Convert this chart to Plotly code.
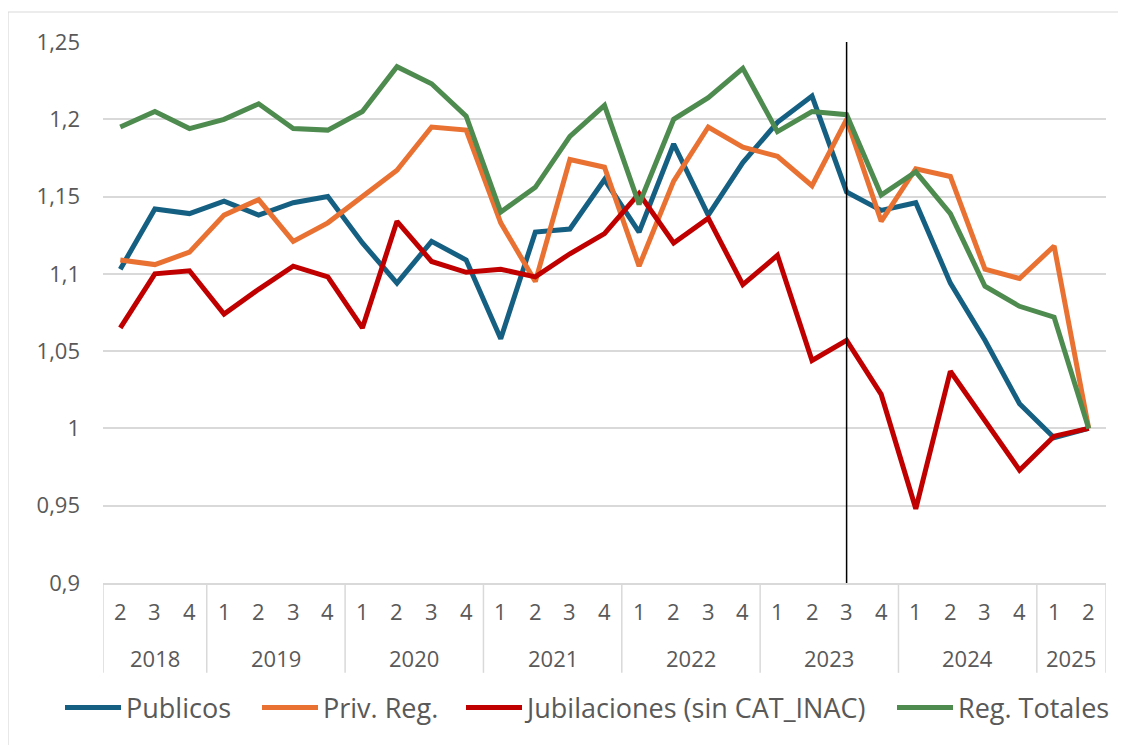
import plotly.graph_objects as go

years = ["2018", "2019", "2020", "2021", "2022", "2023", "2024", "2025"]
quarters_per_year = [[2, 3, 4], [1, 2, 3, 4], [1, 2, 3, 4], [1, 2, 3, 4],
                     [1, 2, 3, 4], [1, 2, 3, 4], [1, 2, 3, 4], [1, 2]]

publicos = [1.103, 1.142, 1.139, 1.147, 1.138, 1.146, 1.150,
            1.120, 1.094, 1.121, 1.109,
            1.058, 1.127, 1.129, 1.161,
            1.127, 1.184, 1.138, 1.172,
            1.198, 1.215, 1.153, 1.141,
            1.146, 1.094, 1.057, 1.016,
            0.994, 1.000]
priv_reg = [1.109, 1.106, 1.114, 1.138, 1.148, 1.121, 1.133,
            1.150, 1.167, 1.195, 1.193,
            1.133, 1.095, 1.174, 1.169,
            1.105, 1.160, 1.195, 1.182,
            1.176, 1.157, 1.200, 1.134,
            1.168, 1.163, 1.103, 1.097,
            1.118, 1.000]
jubilaciones = [1.065, 1.100, 1.102, 1.074, 1.090, 1.105, 1.098,
                1.065, 1.134, 1.108, 1.101,
                1.103, 1.098, 1.113, 1.126,
                1.152, 1.120, 1.136, 1.093,
                1.112, 1.044, 1.057, 1.022,
                0.948, 1.037, 1.005, 0.973,
                0.995, 1.000]
reg_totales = [1.195, 1.205, 1.194, 1.200, 1.210, 1.194, 1.193,
               1.205, 1.234, 1.223, 1.202,
               1.140, 1.156, 1.189, 1.209,
               1.145, 1.200, 1.214, 1.233,
               1.192, 1.205, 1.203, 1.151,
               1.166, 1.139, 1.092, 1.079,
               1.072, 1.000]

series_names = ["Publicos", "Priv. Reg.", "Jubilaciones (sin CAT_INAC)", "Reg. Totales"]
series_colors = ["#156082", "#E97132", "#C00000", "#4E8B4F"]
y_tickvals = [0.9, 0.95, 1.0, 1.05, 1.1, 1.15, 1.2, 1.25]
y_ticktext = ["0,9", "0,95", "1", "1,05", "1,1", "1,15", "1,2", "1,25"]

W, H = 1118, 737
grey = "#595959"

# build flat category index
labels = []
for y, qs in zip(years, quarters_per_year):
    for q in qs:
        labels.append((y, q))
x_idx = list(range(len(labels)))

fig = go.Figure()
legend_ids = ["legend", "legend2", "legend3", "legend4"]
legend_left_px = [52, 249, 453, 884]
for name, vals, col, lid in zip(series_names, [publicos, priv_reg, jubilaciones, reg_totales],
                                series_colors, legend_ids):
    fig.add_trace(go.Scatter(x=x_idx, y=vals, mode="lines", name=name, legend=lid,
                             line=dict(color=col, width=5)))

annotations = []
shapes = []
# quarter labels
for i, (y, q) in enumerate(labels):
    annotations.append(dict(x=i, y=-0.052, xref="x", yref="paper", text=str(q),
                            showarrow=False, font=dict(size=22, color=grey),
                            xanchor="center", yanchor="middle"))
# year labels and dividers
pos = 0
bounds = [-0.5]
for y, qs in zip(years, quarters_per_year):
    center = pos + (len(qs) - 1) / 2
    annotations.append(dict(x=center, y=-0.139, xref="x", yref="paper", text=y,
                            showarrow=False, font=dict(size=22, color=grey),
                            xanchor="center", yanchor="middle"))
    pos += len(qs)
    bounds.append(pos - 0.5)
for b in bounds:
    shapes.append(dict(type="line", xref="x", yref="paper", x0=b, x1=b, y0=0, y1=-0.166,
                       line=dict(color="#d9d9d9", width=1.5)))

# vertical marker line at 2023 Q3
mi = labels.index(("2023", 3))
shapes.append(dict(type="line", xref="x", yref="y", x0=mi, x1=mi, y0=0.9, y1=1.25,
                   line=dict(color="black", width=1.5)))
# chart border frame (top and left edges visible)
fx0 = (0 - 95) / 1003.0
fy1 = (575 - 4) / 541.0
shapes.append(dict(type="line", xref="paper", yref="paper", x0=fx0, x1=1.2,
                   y0=fy1, y1=fy1, line=dict(color="#d9d9d9", width=1.2)))
shapes.append(dict(type="line", xref="paper", yref="paper", x0=fx0, x1=fx0,
                   y0=-0.6, y1=fy1, line=dict(color="#d9d9d9", width=1.2)))

legend_layout = {}
for lid, lx in zip(legend_ids, legend_left_px):
    legend_layout[lid] = dict(orientation="h", xref="container", x=lx / W, xanchor="left",
                              yref="container", y=(H - 700) / H, yanchor="middle",
                              font=dict(size=27, color=grey), itemwidth=56,
                              bgcolor="rgba(0,0,0,0)")

fig.update_layout(
    width=W, height=H,
    margin=dict(l=95, r=20, t=34, b=162, autoexpand=False),
    paper_bgcolor="white", plot_bgcolor="white",
    font=dict(family="Open Sans", color=grey),
    separators=",.",
    showlegend=True,
    annotations=annotations,
    shapes=shapes,
    xaxis=dict(range=[-0.5, len(labels) - 0.5], showticklabels=False, showgrid=False,
               zeroline=False, showline=True, linecolor="#d9d9d9", linewidth=1.5,
               ticks=""),
    yaxis=dict(range=[0.9, 1.25], tickvals=y_tickvals, ticktext=y_ticktext,
               showgrid=True, gridcolor="#d9d9d9", gridwidth=1.5, zeroline=False,
               showline=False, ticks="", tickfont=dict(size=22, color=grey),
               ticklabelstandoff=22),
    **legend_layout,
)

fig.write_html("out.html")
